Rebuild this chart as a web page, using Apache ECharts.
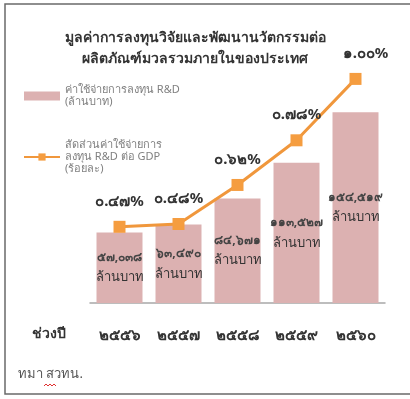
<!DOCTYPE html>
<html><head><meta charset="utf-8">
<script src="https://cdn.jsdelivr.net/npm/echarts@6/dist/echarts.min.js"></script>
<style>html,body{margin:0;padding:0;background:#fff}#c{width:410px;height:399px}</style>
</head><body><div id="c"></div>
<script>
const categories = ['2556', '2557', '2558', '2559', '2560'];
const rdSpending = [57038, 63490, 84671, 113527, 154519];
const rdShare = [0.47, 0.48, 0.62, 0.78, 1.00];
const seriesNames = ['ค่าใช้จ่ายการลงทุน R&D\n(ล้านบาท)', 'สัดส่วนค่าใช้จ่ายการ\nลงทุน R&D ต่อ GDP\n(ร้อยละ)'];
const titleText = 'มูลค่าการลงทุนวิจัยและพัฒนานวัตกรรมต่อ\nผลิตภัณฑ์มวลรวมภายในของประเทศ';
const unitText = 'ล้านบาท';
const axisTitle = 'ช่วงปี';
const sourceText = 'ทมา สวทน.';

const thaiDigits = '๐๑๒๓๔๕๖๗๘๙';
const th = s => String(s).replace(/[0-9]/g, d => thaiDigits[+d]);
const FONT = '"Noto Sans", "DejaVu Sans", sans-serif';

const chart = echarts.init(document.getElementById('c'), null, {renderer: 'canvas'});
chart.setOption({
  animation: false,
  backgroundColor: '#fff',
  textStyle: {fontFamily: FONT},
  title: {
    text: titleText, left: 190, top: 23, textAlign: 'center',
    textStyle: {fontSize: 14, fontWeight: 'bold', color: '#333', lineHeight: 21, fontFamily: FONT}
  },
  legend: {
    orient: 'vertical', left: 18, top: 79, itemGap: 31,
    itemWidth: 36, itemHeight: 9,
    textStyle: {fontSize: 11, color: '#808080', lineHeight: 12, fontFamily: FONT},
    data: [
      {name: seriesNames[0], icon: 'rect'},
      {name: seriesNames[1]}
    ]
  },
  grid: {left: 90, width: 295, top: 63, height: 240},
  xAxis: {
    type: 'category', data: categories,
    axisLine: {lineStyle: {color: '#a8a8a8', width: 1.5}},
    axisTick: {show: false},
    axisLabel: {formatter: v => th(v), fontSize: 15, fontWeight: 'bold', color: '#333', margin: 25, fontFamily: FONT}
  },
  yAxis: [
    {type: 'value', min: 0, max: 194400, show: false, splitLine: {show: false}},
    {type: 'value', min: 0.197, max: 1.057, show: false, splitLine: {show: false}}
  ],
  series: [
    {
      name: seriesNames[0], type: 'bar', data: rdSpending, barWidth: 46,
      itemStyle: {color: '#dcb1b1'},
      label: {
        show: true, position: 'inside',
        formatter: p => '{v|' + th(p.value.toLocaleString('en-US')) + '}\n{u|' + unitText + '}',
        rich: {
          v: {fontSize: 12, color: '#444', fontWeight: 'bold', lineHeight: 20, fontFamily: FONT},
          u: {fontSize: 13, color: '#333', lineHeight: 20, fontFamily: FONT}
        }
      }
    },
    {
      name: seriesNames[1], type: 'line', yAxisIndex: 1, data: rdShare,
      symbol: 'rect', symbolSize: 12,
      lineStyle: {color: '#f0973c', width: 3},
      itemStyle: {color: '#f59d40'},
      label: {
        show: true, position: 'top', distance: 12,
        formatter: p => th(p.value.toFixed(2)) + '%',
        fontSize: 15, fontWeight: 'bold', color: '#333', fontFamily: FONT
      },
      labelLayout: p => (p.dataIndex === rdShare.length - 1 ? {dx: 10} : {}),
      z: 5
    }
  ],
  graphic: [
    {type: 'rect', shape: {x: 5, y: 4, width: 420, height: 390}, style: {fill: null, stroke: '#6a6a6a', lineWidth: 1.5}, silent: true},
    {type: 'text', left: 32, top: 327, style: {text: axisTitle, fill: '#333', font: 'bold 14px ' + FONT}},
    {type: 'text', left: 18, top: 368, style: {text: sourceText, fill: '#555', font: '13px ' + FONT}},
    {type: 'polyline', shape: {points: [[44,386],[46,384],[48,386],[50,384],[52,386],[54,384],[56,386]]}, style: {stroke: '#e03030', lineWidth: 1, fill: null}, silent: true}
  ]
});
</script></body></html>
